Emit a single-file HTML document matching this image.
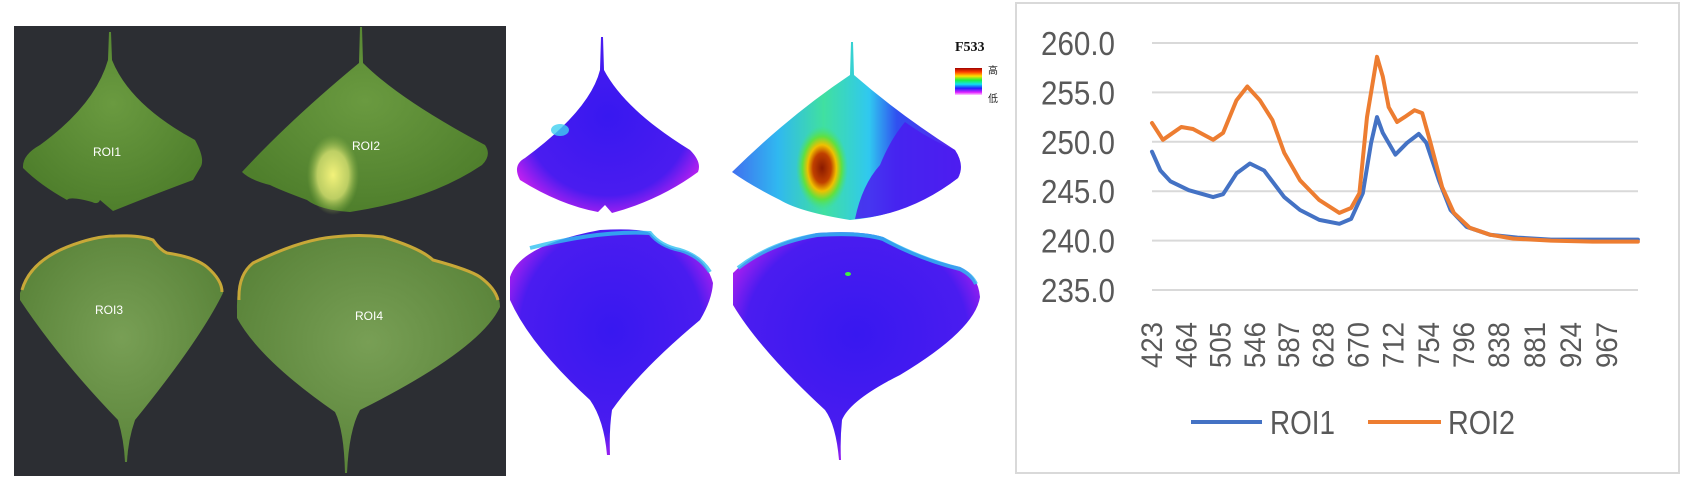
<!DOCTYPE html>
<html><head><meta charset="utf-8"><style>
html,body{margin:0;padding:0;background:#fff;width:1684px;height:488px;overflow:hidden}
svg{display:block}
</style></head><body>
<svg id="root" width="1684" height="488" viewBox="0 0 1684 488" xmlns="http://www.w3.org/2000/svg">
<defs>
<radialGradient id="gLeaf" cx="50%" cy="40%" r="60%"><stop offset="0" stop-color="#6a9a40"/><stop offset="1" stop-color="#4f7f2c"/></radialGradient>
<radialGradient id="gLeaf2" cx="50%" cy="45%" r="65%"><stop offset="0" stop-color="#789f55"/><stop offset="1" stop-color="#557f35"/></radialGradient>
<radialGradient id="gYellow" cx="50%" cy="50%" r="50%"><stop offset="0" stop-color="#f3f27a"/><stop offset="0.6" stop-color="#d6e070" stop-opacity="0.8"/><stop offset="1" stop-color="#8fb84a" stop-opacity="0"/></radialGradient>
<radialGradient id="gBlue" cx="50%" cy="45%" r="60%"><stop offset="0" stop-color="#3818f0"/><stop offset="0.75" stop-color="#4a1cf0"/><stop offset="1" stop-color="#c020f0"/></radialGradient>
<linearGradient id="gFC2" x1="0" y1="0" x2="1" y2="0"><stop offset="0" stop-color="#4070f0"/><stop offset="0.2" stop-color="#30b8f0"/><stop offset="0.4" stop-color="#40e0a0"/><stop offset="0.6" stop-color="#30c8f0"/><stop offset="0.72" stop-color="#3050f0"/><stop offset="1" stop-color="#6020f0"/></linearGradient>
<radialGradient id="gHot" cx="50%" cy="50%" r="50%"><stop offset="0" stop-color="#8a1a00"/><stop offset="0.35" stop-color="#c04000"/><stop offset="0.55" stop-color="#f0c000"/><stop offset="0.75" stop-color="#60e040"/><stop offset="1" stop-color="#40e080" stop-opacity="0"/></radialGradient>
<linearGradient id="gBar" x1="0" y1="0" x2="0" y2="1"><stop offset="0" stop-color="#a00000"/><stop offset="0.15" stop-color="#ff4000"/><stop offset="0.3" stop-color="#ffe000"/><stop offset="0.45" stop-color="#20f040"/><stop offset="0.6" stop-color="#10e0f0"/><stop offset="0.75" stop-color="#2020ff"/><stop offset="0.9" stop-color="#e020ff"/><stop offset="1" stop-color="#ffd0ff"/></linearGradient>
</defs>

<g>
<rect x="14" y="26" width="492" height="450" fill="#2c2e33"/>
<path fill="url(#gLeaf)" d="M109,32 L111,32 L112,60 Q130,105 195,140 Q206,160 200,168 L193,180 Q150,196 113,211 L100,200 Q98,205 92,202 Q70,196 67,200 Q40,185 23,168 Q22,155 40,145 Q95,105 108,60 Z"/>
<path fill="url(#gLeaf)" d="M360,27 L362,27 L363,63 Q400,100 485,145 Q492,155 482,165 Q430,200 350,212 Q320,210 307,200 Q280,190 270,185 Q250,180 242,172 Q290,120 359,63 Z"/>
<ellipse cx="333" cy="175" rx="26" ry="40" fill="url(#gYellow)"/>
<path fill="url(#gLeaf2)" d="M20,293 Q30,262 67,247 Q95,236 115,236 Q140,235 153,240 Q160,250 167,253 Q195,257 207,267 Q225,280 223,293 Q200,340 135,420 Q128,440 127,462 L125,462 Q124,440 118,420 Q60,360 20,300 Z"/>
<path fill="none" stroke="#c8a838" stroke-width="3" d="M22,290 Q30,262 67,247 Q95,236 115,236 Q140,235 153,240 Q160,250 167,253 Q195,257 207,267 Q222,280 222,292"/>
<path fill="url(#gLeaf2)" d="M237,310 Q236,275 253,263 Q300,240 333,237 Q360,234 383,237 Q420,248 433,260 Q470,270 480,277 Q500,290 500,307 Q480,350 360,410 Q349,430 347,473 L345,473 Q344,430 335,412 Q260,360 237,318 Z"/>
<path fill="none" stroke="#c8a838" stroke-width="3" d="M239,300 Q238,275 253,263 Q300,240 333,237 Q360,234 383,237 Q420,248 433,260 Q470,270 480,277 Q495,288 498,300"/>
<text x="107" y="156" font-family="Liberation Sans, sans-serif" font-size="12" fill="#fff" text-anchor="middle">ROI1</text>
<text x="366" y="150" font-family="Liberation Sans, sans-serif" font-size="12" fill="#fff" text-anchor="middle">ROI2</text>
<text x="109" y="314" font-family="Liberation Sans, sans-serif" font-size="12" fill="#fff" text-anchor="middle">ROI3</text>
<text x="369" y="320" font-family="Liberation Sans, sans-serif" font-size="12" fill="#fff" text-anchor="middle">ROI4</text>
</g>

<g>
<path fill="url(#gBlue)" d="M601,37 L603,37 L604,70 Q625,110 690,150 Q702,162 698,172 Q660,200 612,213 L605,205 L598,212 Q560,205 520,180 Q512,165 525,158 Q590,110 600,70 Z"/>
<ellipse cx="560" cy="130" rx="9" ry="6" fill="#40d0f0" opacity="0.8"/>
<path fill="url(#gFC2)" d="M851,42 L853,42 L854,75 Q900,115 955,150 Q965,165 958,178 Q910,215 850,220 Q800,212 780,200 Q750,185 732,172 Q790,115 850,75 Z"/>
<path fill="#4a1cf0" opacity="0.85" d="M905,122 Q930,140 955,150 Q965,165 958,178 Q910,215 855,219 Q862,185 880,165 Q890,140 905,122 Z"/>
<ellipse cx="822" cy="168" rx="26" ry="42" fill="url(#gHot)"/>
<path fill="url(#gBlue)" d="M510,277 Q520,245 600,230 Q640,228 650,233 Q660,246 680,250 Q705,255 713,283 Q712,300 700,320 Q640,370 612,410 Q609,430 610,455 L607,455 Q604,420 590,400 Q530,345 510,300 Z"/>
<path fill="none" stroke="#30c0f0" stroke-width="4" opacity="0.8" d="M530,248 Q600,230 650,233 Q660,246 680,250 Q700,256 710,272"/>
<path fill="url(#gBlue)" d="M733,273 Q760,245 817,233 Q860,230 883,237 Q920,258 960,267 Q978,275 980,297 Q975,330 900,375 Q850,400 842,420 Q840,440 841,460 L839,460 Q836,425 825,410 Q760,350 733,305 Z"/>
<path fill="none" stroke="#30c0f0" stroke-width="4" opacity="0.8" d="M738,268 Q770,243 817,235 Q860,232 883,239 Q920,259 960,269 Q972,275 976,284"/>
<ellipse cx="848" cy="274" rx="3" ry="2" fill="#40f040"/>
<text x="955" y="51" font-family="Liberation Serif, serif" font-weight="bold" font-size="14" fill="#111">F533</text>
<rect x="955" y="68" width="27" height="27" fill="url(#gBar)"/>
<text x="988" y="74" font-family="Liberation Sans, 'Noto Sans CJK SC', sans-serif" font-size="10" fill="#222">高</text>
<text x="988" y="102" font-family="Liberation Sans, 'Noto Sans CJK SC', sans-serif" font-size="10" fill="#222">低</text>
</g>

<g id="chart">
<rect x="1016" y="3" width="663" height="470" fill="#fff" stroke="#d9d9d9" stroke-width="2"/>
</g>
</svg>
<script>
const yTicks = [235, 240, 245, 250, 255, 260];
const xTickLabels = [423, 464, 505, 546, 587, 628, 670, 712, 754, 796, 838, 881, 924, 967];
const roi1Wl = [423, 433, 445, 467, 496, 508, 524, 540, 557, 581, 600, 623, 647, 661, 675, 685, 692, 699, 714, 728, 742, 751, 766, 780, 799, 827, 860, 900, 950, 1004];
const roi1Val = [249.0, 247.1, 246.0, 245.1, 244.4, 244.7, 246.8, 247.8, 247.1, 244.4, 243.1, 242.1, 241.7, 242.2, 244.8, 249.9, 252.5, 250.9, 248.7, 249.9, 250.8, 249.9, 246.1, 243.1, 241.4, 240.6, 240.3, 240.1, 240.1, 240.1];
const roi2Wl = [423, 436, 458, 472, 496, 508, 524, 537, 552, 567, 581, 600, 623, 647, 661, 671, 680, 692, 699, 706, 716, 725, 737, 746, 756, 770, 784, 803, 827, 855, 900, 950, 1004];
const roi2Val = [251.9, 250.2, 251.5, 251.3, 250.2, 250.9, 254.2, 255.6, 254.2, 252.2, 248.9, 246.1, 244.1, 242.8, 243.3, 244.8, 252.5, 258.6, 256.6, 253.5, 252.0, 252.5, 253.2, 252.9, 249.9, 245.4, 242.8, 241.3, 240.6, 240.2, 240.0, 239.9, 239.9];

const NS = 'http://www.w3.org/2000/svg';
const chart = document.getElementById('chart');
const plotL = 1152, plotR = 1638;
const xScale = wl => 1152 + (wl - 423) * 0.8364;
const yScale = v => 43 + (260 - v) * 9.88;
function mk(tag, attrs) { const e = document.createElementNS(NS, tag); for (const k in attrs) e.setAttribute(k, attrs[k]); chart.appendChild(e); return e; }

yTicks.forEach(t => {
  const g = mk('line', {x1: plotL, x2: plotR, y1: yScale(t), y2: yScale(t), stroke: '#d9d9d9', 'stroke-width': 2});
  
  
  const tx = mk('text', {x: 1115, y: yScale(t) + 12, 'text-anchor': 'end', 'font-family': 'Liberation Sans, sans-serif', 'font-size': 33, fill: '#595959', textLength: 74, lengthAdjust: 'spacingAndGlyphs'});
  tx.textContent = t.toFixed(1);
  
  
});
xTickLabels.forEach(l => {
  const x = xScale(l);
  const tx = mk('text', {x: 0, y: 0, transform: 'translate(' + (x + 10) + ',368) rotate(-90)', 'font-family': 'Liberation Sans, sans-serif', 'font-size': 30, fill: '#595959', textLength: 46, lengthAdjust: 'spacingAndGlyphs'});
  tx.textContent = l;
  
  
});
function series(wl, vals, color, name) {
  const pts = wl.map((w, i) => xScale(w).toFixed(1) + ',' + yScale(vals[i]).toFixed(1)).join(' ');
  const p = mk('polyline', {points: pts, fill: 'none', stroke: color, 'stroke-width': 4, 'stroke-linejoin': 'round', 'stroke-linecap': 'round'});
  
  
}
series(roi1Wl, roi1Val, '#4472C4', 'line-roi1');
series(roi2Wl, roi2Val, '#ED7D31', 'line-roi2');

const l1 = mk('line', {x1: 1191, x2: 1262, y1: 422, y2: 422, stroke: '#4472C4', 'stroke-width': 4});


const t1 = mk('text', {x: 1270, y: 434, 'font-family': 'Liberation Sans, sans-serif', 'font-size': 33, fill: '#595959', textLength: 65, lengthAdjust: 'spacingAndGlyphs'});
t1.textContent = 'ROI1';


const l2 = mk('line', {x1: 1368, x2: 1441, y1: 422, y2: 422, stroke: '#ED7D31', 'stroke-width': 4});


const t2 = mk('text', {x: 1448, y: 434, 'font-family': 'Liberation Sans, sans-serif', 'font-size': 33, fill: '#595959', textLength: 67, lengthAdjust: 'spacingAndGlyphs'});
t2.textContent = 'ROI2';


</script>
</body></html>
